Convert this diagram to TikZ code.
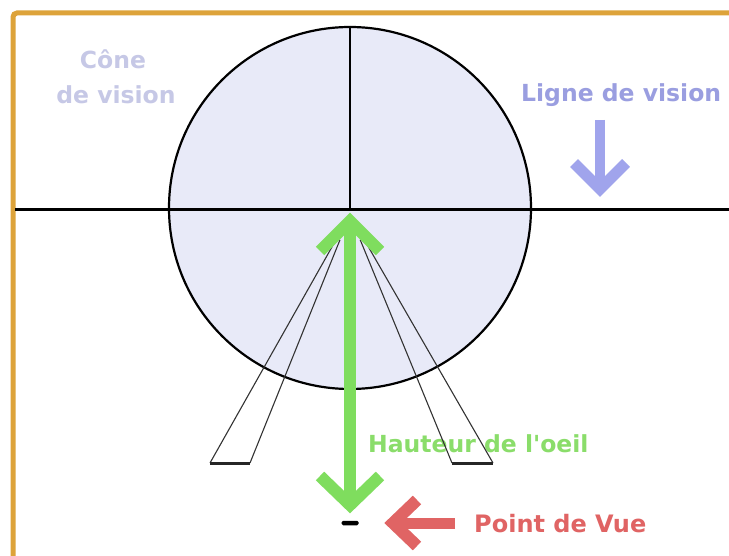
\documentclass[tikz,border=0pt]{standalone}
\usepackage{fontspec}
\usetikzlibrary{calc}
\newfontfamily\dvs{DejaVu Sans}
\definecolor{frameor}{HTML}{DDA33A}
\definecolor{conefill}{HTML}{E8EAF8}
\definecolor{lconetxt}{HTML}{C6C8E6}
\definecolor{lignetxt}{HTML}{9A9EE0}
\definecolor{lignearr}{HTML}{A0A4EC}
\definecolor{greenarr}{HTML}{7FDD5E}
\definecolor{greentxt}{HTML}{8ADD6A}
\definecolor{redarr}{HTML}{E06464}
\tikzset{
  lbl/.style={inner sep=0pt, anchor=base west, font=\dvs\bfseries\fontsize{23.5}{28}\selectfont},
  chev/.style={line width=#1, line join=miter, line cap=butt},
  legline/.style={line width=1.1pt, black!80},
  legfoot/.style={line width=3pt, black!85},
}
\begin{document}
\begin{tikzpicture}[x=1pt,y=-1pt]
\useasboundingbox (0,0) rectangle (729,556);
\clip (0,0) rectangle (729,556);
\fill[white] (0,0) rectangle (729,556);
% frame
\draw[frameor, line width=5pt, rounded corners=4pt] (13,600) -- (13,13) -- (780,13);
% cone of vision circle
\node[circle, draw, line width=2.2pt, fill=conefill, minimum size=362pt, inner sep=0pt] (cone) at (350,208) {};
\coordinate (eye) at (350,210);
\draw[line width=2pt] (cone.north) -- (eye);
% horizon line
\coordinate (hl) at (15,210);
\coordinate (hr) at (729,210);
\draw[line width=3pt] (hl) -- (hr);
% labels
\node[lbl, text=lconetxt, anchor=base] (cone1) at (113,69) {Cône};
\node[lbl, text=lconetxt, anchor=base] (cone2) at (116,104) {de vision};
\node[lbl, text=lignetxt] (ligne) at (521,102) {Ligne de vision};
\node[lbl, text=greentxt] (haut) at (368,452) {Hauteur de l'oeil};
\node[lbl, text=redarr, font=\dvs\bfseries\fontsize{24}{28}\selectfont] (pdv) at (474,532) {Point de Vue};
% legs (lines of sight)
\coordinate (apex) at (350,215);
\coordinate (l1) at (210,463); \coordinate (l2) at (250,463);
\coordinate (r1) at (452,463); \coordinate (r2) at (493,463);
\draw[legline] (l1) -- ($(l1)!0.9!(apex)$);
\draw[legline] (l2) -- ($(l2)!0.9!(apex)$);
\draw[legline] (r1) -- ($(r1)!0.9!(apex)$);
\draw[legline] (r2) -- ($(r2)!0.9!(apex)$);
\draw[legfoot] (l1) -- (l2);
\draw[legfoot] (r1) -- (r2);
% green eye-height arrow
\coordinate (gt) at (350,221);
\coordinate (gb) at (350,505);
\draw[greenarr, line width=12pt] (350,226) -- (350,500);
\draw[greenarr, chev=12pt] (320,251) -- (gt) -- (380,251);
\draw[greenarr, chev=12pt] (320,476) -- (gb) -- (380,476);
% point of view mark
\node[fill=black, rounded corners=1.5pt, minimum width=17pt, minimum height=4.5pt, inner sep=0pt] (pv) at (350,523) {};
% red arrow
\coordinate (rt) at (393,523);
\coordinate (rs) at (455,523);
\draw[redarr, line width=11pt] (rs) -- (398,523);
\draw[redarr, chev=12pt] (417,500) -- (rt) -- (417,546);
% purple arrow
\coordinate (pt) at (600,189);
\coordinate (ps) at (600,120);
\draw[lignearr, line width=10pt] (ps) -- (600,184);
\draw[lignearr, chev=11pt] (574,163) -- (pt) -- (626,163);
\end{tikzpicture}
\end{document}
